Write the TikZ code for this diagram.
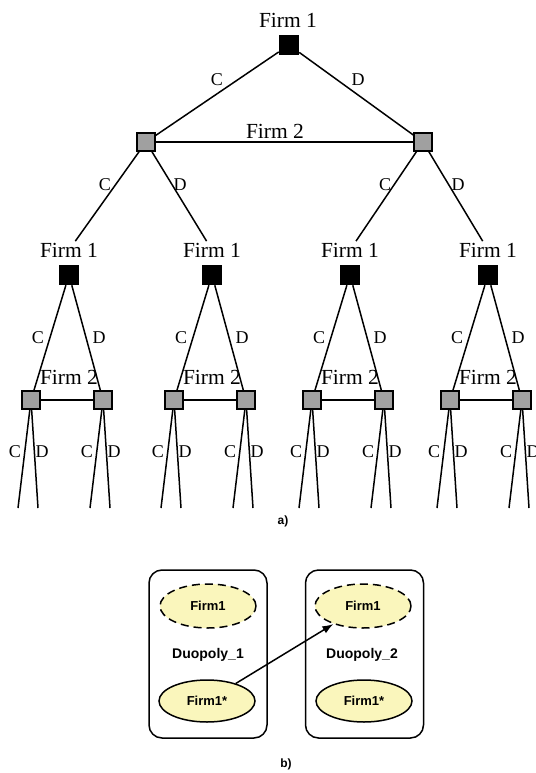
\documentclass[tikz,border=0pt]{standalone}
\usepackage{xcolor}
\usepackage{fontspec}
\setmainfont{Liberation Serif}
\newfontfamily\labelfont{Liberation Sans}
\usepackage{tikz}
\usetikzlibrary{arrows.meta,shapes.geometric}

\definecolor{agentfill}{RGB}{250,246,188}
\definecolor{movefill}{RGB}{160,160,160}

\tikzset{
  pone/.style={draw, fill=black, minimum size=19pt, inner sep=0pt},
  ptwo/.style={draw, fill=movefill, minimum size=18pt, inner sep=0pt},
  firm/.style={font=\fontsize{21.5}{24}\selectfont, inner sep=1pt},
  act/.style={font=\fontsize{18}{20}\selectfont, inner sep=0pt},
  duo/.style={draw, rounded corners=13pt, minimum width=118pt, minimum height=168pt},
  agent/.style={draw, ellipse, fill=agentfill, minimum width=96pt, minimum height=42pt,
    inner sep=0pt, font=\labelfont\bfseries\fontsize{13}{15}\selectfont},
  guess/.style={agent, minimum height=44pt, dash pattern=on 8pt off 5pt},
  market/.style={font=\labelfont\bfseries\fontsize{14}{16}\selectfont},
  part/.style={font=\labelfont\bfseries\fontsize{12}{14}\selectfont},
}

\begin{document}
\begin{tikzpicture}[x=1pt, y=-1pt, line width=1.5pt]
  \useasboundingbox (0, 0) rectangle (535, 773);

  \node(F)  at (288, 20)  [firm] {Firm 1};
  \node(R)  at (289, 45)  [pone] {};
  \node(SL) at (146, 142) [ptwo] {};
  \node(SR) at (423, 142) [ptwo] {};
  \node(S)  at (275, 131) [firm] {Firm 2};
  \node(RC) at (217, 80)  [act] {C};
  \node(RD) at (358, 80)  [act] {D};

  \draw (R) edge (SL) (R) edge (SR) (SL) edge (SR);

  \foreach \x/\p/\m/\dx [count=\n] in {69/SL/C/36, 212/SL/D/-32, 350/SR/C/35, 488/SR/D/-30} {
    \node(F\n) at (\x, 250) [firm] {Firm 1};
    \node(A\n) at (\x, 275) [pone] {};
    \node(M\n) at (\x+\dx, 185) [act] {\m};
    \draw (\p) edge (F\n);

    \node(P\n) at (\x-38, 400) [ptwo] {};
    \node(Q\n) at (\x+34, 400) [ptwo] {};
    \node(T\n) at (\x, 377) [firm] {Firm 2};
    \node(AC\n) at (\x-31, 338) [act] {C};
    \node(AD\n) at (\x+30, 338) [act] {D};
    \draw (A\n) edge (P\n) (A\n) edge (Q\n) (P\n) edge (Q\n);

    \coordinate(P\n c) at (\x-51, 508);
    \coordinate(P\n d) at (\x-31, 508);
    \coordinate(Q\n c) at (\x+21, 508);
    \coordinate(Q\n d) at (\x+41, 508);
    \draw (P\n) edge (P\n c) (P\n) edge (P\n d) (Q\n) edge (Q\n c) (Q\n) edge (Q\n d);
    \node(PC\n) at (\x-54, 452) [act] {C};
    \node(PD\n) at (\x-27, 452) [act] {D};
    \node(QC\n) at (\x+18, 452) [act] {C};
    \node(QD\n) at (\x+45, 452) [act] {D};
  }

  \node(a) at (283, 521) [part] {a)};

  \node(D1) at (208, 654)   [duo] {};
  \node(D2) at (364.5, 654) [duo] {};
  \node(G1) at (208, 606)   [guess] {Firm1};
  \node(G2) at (363, 606)   [guess] {Firm1};
  \node(N1) at (208, 655)   [market] {Duopoly\_1};
  \node(N2) at (362, 655)   [market] {Duopoly\_2};
  \node(E1) at (207, 701)   [agent] {Firm1*};
  \node(E2) at (364, 701)   [agent] {Firm1*};

  \draw[-{Latex[length=11pt, width=8pt]}] (E1) edge (G2);

  \node(b) at (286, 764) [part] {b)};
\end{tikzpicture}
\end{document}
